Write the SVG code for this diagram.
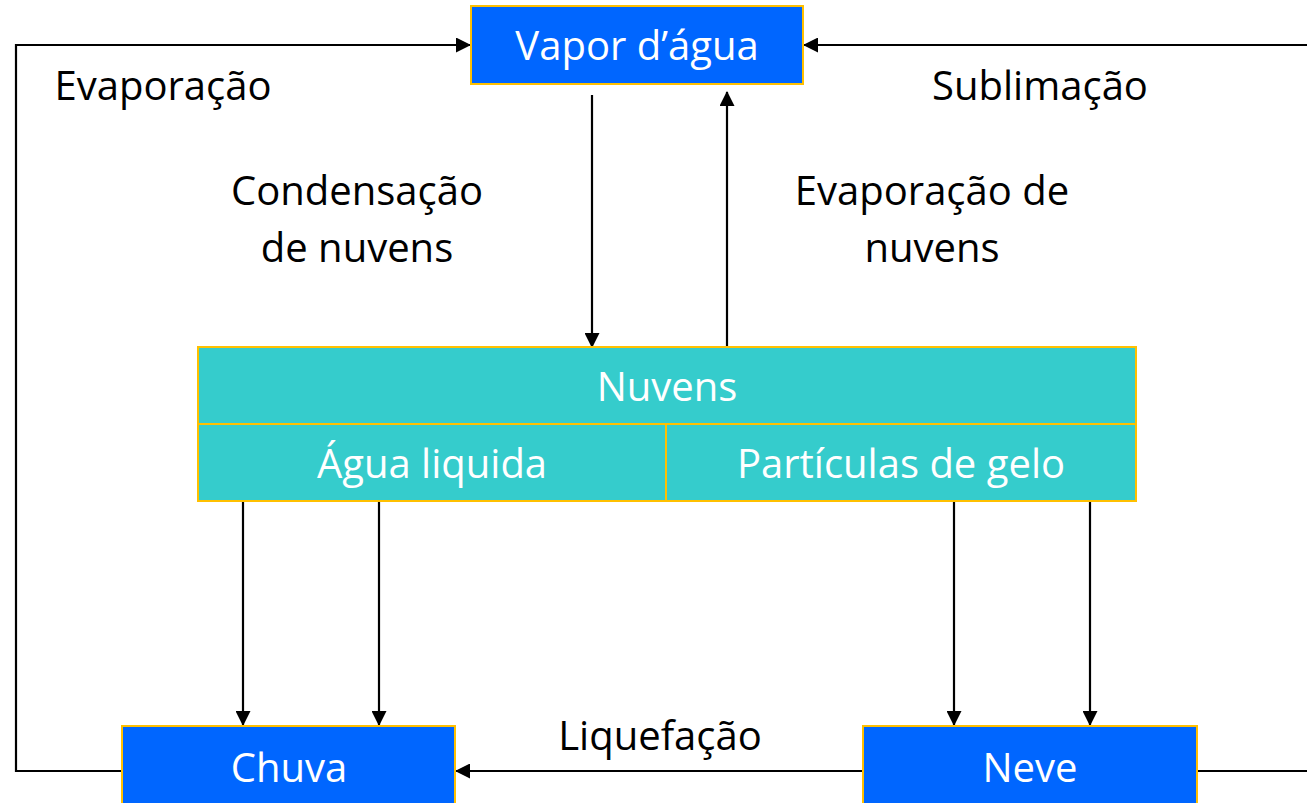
<svg xmlns="http://www.w3.org/2000/svg" width="1307" height="803" viewBox="0 0 1307 803">
<defs>
<marker id="arr" markerWidth="15" markerHeight="15" refX="14" refY="7.5" orient="auto" markerUnits="userSpaceOnUse" viewBox="0 0 15 15">
<path d="M0,0 L15,7.5 L0,15 z" fill="#000"/>
</marker>
<style>
.box{fill:#0066FF;stroke:#FFC000;stroke-width:2}
.cl{fill:#35CCCC;stroke:#FFC000;stroke-width:2}
.wt{fill:#fff;font-family:"Open Sans","Liberation Sans",sans-serif;font-size:40px;text-anchor:middle}
.bt{fill:#000;font-family:"Open Sans","Liberation Sans",sans-serif;font-size:40px;text-anchor:middle}
.ln{fill:none;stroke:#000;stroke-width:2.2}
</style>
</defs>
<rect width="1307" height="803" fill="#fff"/>
<g id="connectors">
<polyline class="ln" points="122,771 16,771 16,45 470,45" marker-end="url(#arr)"/>
<polyline class="ln" points="1307,45 804,45" marker-end="url(#arr)"/>
<line class="ln" x1="592" y1="95" x2="592" y2="347" marker-end="url(#arr)"/>
<line class="ln" x1="727" y1="347" x2="727" y2="92" marker-end="url(#arr)"/>
<line class="ln" x1="243" y1="501" x2="243" y2="725" marker-end="url(#arr)"/>
<line class="ln" x1="379" y1="501" x2="379" y2="725" marker-end="url(#arr)"/>
<line class="ln" x1="954" y1="501" x2="954" y2="725" marker-end="url(#arr)"/>
<line class="ln" x1="1090" y1="501" x2="1090" y2="725" marker-end="url(#arr)"/>
<line class="ln" x1="863" y1="771" x2="456" y2="771" marker-end="url(#arr)"/>
<line class="ln" x1="1197" y1="771" x2="1307" y2="771"/>
<text class="bt" x="163" y="100">Evaporação</text>
<text class="bt" x="1040" y="100">Sublimação</text>
<text class="bt" x="357" y="205">Condensação</text>
<text class="bt" x="357" y="262">de nuvens</text>
<text class="bt" x="932" y="205">Evaporação de</text>
<text class="bt" x="932" y="262">nuvens</text>
<text class="bt" x="660" y="750">Liquefação</text>
</g>
<g id="vapor">
<rect class="box" x="471" y="6" width="332" height="78"/>
<text class="wt" x="637" y="60">Vapor d’água</text>
</g>
<g id="nuvens">
<rect class="cl" x="198" y="347" width="938" height="77"/>
<text class="wt" x="667" y="401">Nuvens</text>
</g>
<g id="agua-liquida">
<rect class="cl" x="198" y="424" width="468" height="77"/>
<text class="wt" x="432" y="478">Água liquida</text>
</g>
<g id="particulas-gelo">
<rect class="cl" x="666" y="424" width="470" height="77"/>
<text class="wt" x="901" y="478">Partículas de gelo</text>
</g>
<g id="chuva">
<rect class="box" x="122" y="726" width="333" height="90"/>
<text class="wt" x="289" y="782">Chuva</text>
</g>
<g id="neve">
<rect class="box" x="863" y="726" width="334" height="90"/>
<text class="wt" x="1030" y="782">Neve</text>
</g>
</svg>
